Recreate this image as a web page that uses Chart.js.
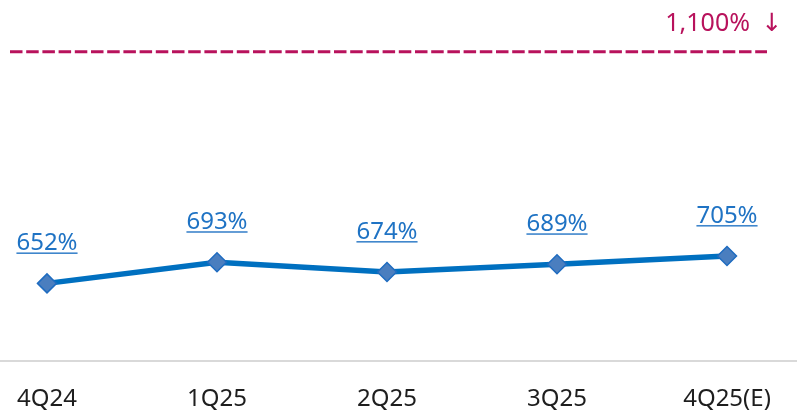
<!DOCTYPE html>
<html>
<head>
<meta charset="utf-8">
<script src="https://cdn.jsdelivr.net/npm/chart.js@4/dist/chart.umd.min.js"></script>
<style>
  html, body { margin: 0; padding: 0; background: #ffffff; }
  #wrap { width: 797px; height: 411px; position: relative; }
</style>
</head>
<body>
<div id="wrap"><canvas id="c" width="797" height="411"></canvas></div>
<script>
const categories = ["4Q24", "1Q25", "2Q25", "3Q25", "4Q25(E)"];
const ratioValues = [652, 693, 674, 689, 705];
const thresholdValue = 1100;
const thresholdLabel = "1,100%";
const thresholdArrow = "\u2193";
const yMin = 500;
const yMax = 1200;

const FONT = "'Noto Sans', 'DejaVu Sans', sans-serif";
const MAGENTA = "#B8125C";

const decorPlugin = {
  id: "decor",
  beforeDatasetsDraw(chart) {
    const ctx = chart.ctx;
    const y = chart.scales.y;
    const area = chart.chartArea;
    ctx.save();
    // baseline
    ctx.strokeStyle = "#D9D9D9";
    ctx.lineWidth = 2;
    ctx.beginPath();
    ctx.moveTo(0, area.bottom - 1);
    ctx.lineTo(chart.width, area.bottom - 1);
    ctx.stroke();
    // threshold dashed line
    const ty = y.getPixelForValue(thresholdValue);
    ctx.strokeStyle = MAGENTA;
    ctx.lineWidth = 3;
    ctx.setLineDash([12.5, 3.7]);
    ctx.beginPath();
    ctx.moveTo(10, ty);
    ctx.lineTo(chart.width - 30, ty);
    ctx.stroke();
    ctx.setLineDash([]);
    // threshold label
    ctx.fillStyle = MAGENTA;
    ctx.font = "25px " + FONT;
    ctx.textAlign = "right";
    ctx.textBaseline = "alphabetic";
    ctx.fillText(thresholdLabel, chart.width - 47, ty - 21);
    ctx.textAlign = "center";
    ctx.fillText(thresholdArrow, chart.width - 25, ty - 21);
    ctx.restore();
  },
  afterDatasetsDraw(chart) {
    const ctx = chart.ctx;
    const meta = chart.getDatasetMeta(0);
    ctx.save();
    ctx.font = "24px " + FONT;
    ctx.textAlign = "center";
    ctx.textBaseline = "alphabetic";
    meta.data.forEach((pt, i) => {
      const txt = ratioValues[i] + "%";
      const w = ctx.measureText(txt).width;
      ctx.fillStyle = "#1F73C4";
      ctx.fillText(txt, pt.x, pt.y - 33);
      ctx.fillStyle = "#3F86CC";
      ctx.fillRect(pt.x - w / 2, pt.y - 31, w, 1.6);
    });
    ctx.restore();
  }
};

new Chart(document.getElementById("c"), {
  type: "line",
  data: {
    labels: categories,
    datasets: [{
      data: ratioValues,
      borderColor: "#0070C0",
      borderWidth: 5.5,
      tension: 0,
      pointStyle: "rectRot",
      pointRadius: 9.5,
      pointHoverRadius: 9.5,
      pointBackgroundColor: "#4A7EBF",
      pointBorderColor: "#1F6CC0",
      pointBorderWidth: 1.5,
      clip: false
    }]
  },
  options: {
    responsive: false,
    animation: false,
    events: [],
    layout: { autoPadding: false, padding: { left: 47, right: 70, top: 0, bottom: 0 } },
    plugins: { legend: { display: false }, tooltip: { enabled: false } },
    scales: {
      x: {
        offset: false,
        grid: { display: false, drawTicks: false },
        border: { display: false },
        ticks: { color: "#1E1E1E", font: { family: FONT, size: 24 }, padding: 23, maxRotation: 0, autoSkip: false },
        afterFit(scale) {
          scale.height = 49;
          scale.paddingLeft = 0;
          scale.paddingRight = 0;
        }
      },
      y: {
        display: false,
        min: yMin,
        max: yMax
      }
    }
  },
  plugins: [decorPlugin]
});
</script>
</body>
</html>
